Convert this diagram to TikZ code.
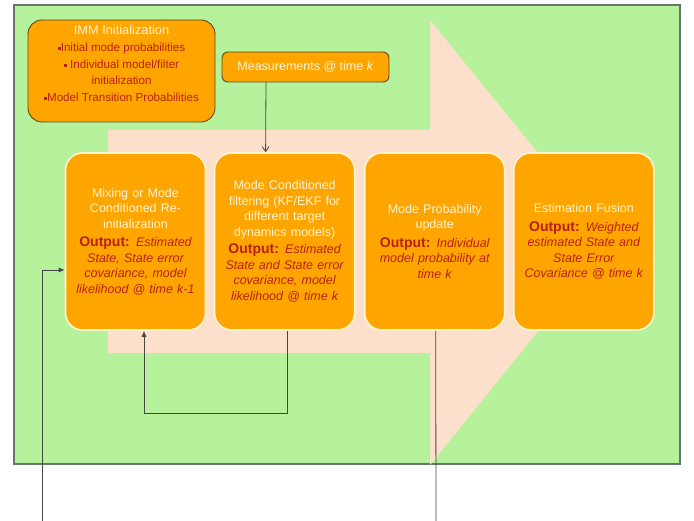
\documentclass[tikz,border=0pt]{standalone}
\usepackage{fontspec}
\setmainfont{Liberation Sans}
\usetikzlibrary{positioning,arrows.meta}

\definecolor{bggreen}{RGB}{182,242,155}
\definecolor{arrowpeach}{RGB}{252,224,204}
\definecolor{boxorange}{RGB}{255,165,0}
\definecolor{boxcream}{RGB}{255,245,212}
\definecolor{outred}{RGB}{185,32,20}
\definecolor{framegray}{RGB}{105,118,105}
\definecolor{boxedge}{RGB}{92,72,22}
\definecolor{linegray}{RGB}{70,70,70}

\newcommand{\outp}[1]{\textcolor{outred}{{\bfseries\fontsize{14}{15.5}\selectfont Output:} \itshape #1}}
\newcommand{\blt}{\textcolor{outred}{\raisebox{1.5pt}{\rule{3pt}{3pt}}}}

\tikzset{
	procbox/.style={draw=boxcream, line width=1.6pt, fill=boxorange, rounded corners=17pt,
		minimum width=140pt, minimum height=177pt, text width=130pt, align=center,
		inner sep=0pt, text=boxcream, font=\fontsize{12.5}{15.5}\selectfont},
	infobox/.style={draw=boxedge, line width=0.9pt, fill=boxorange},
	link/.style={draw=linegray, line width=0.8pt},
}

\begin{document}
\begin{tikzpicture}[x=1pt,y=-1pt]
\useasboundingbox (0,0) rectangle (694,521);
%
	\draw[fill=bggreen, draw=framegray, line width=1.3pt] (14,5) rectangle (680,464);
	\fill[arrowpeach] (108,130) -- (430,130) -- (430,20) -- (610,242) -- (430,465)
		-- (430,353) -- (108,353) -- cycle;
%
	\node[infobox, rounded corners=14pt, minimum width=187pt, minimum height=102pt] (imminit) at (121.5,71) {};
	\node[align=center, font=\fontsize{11.6}{16.7}\selectfont, text=outred] (imminittext) at (121.5,63.5)
		{\textcolor{boxcream}{\fontsize{12.8}{16.7}\selectfont IMM Initialization}\\ \blt Initial mode probabilities\\ \blt\ Individual model/filter\\ initialization\\ \blt Model Transition Probabilities};
	\node[infobox, rounded corners=6pt, minimum width=167pt, minimum height=30pt, text=boxcream,
		font=\fontsize{12.5}{15}\selectfont] (meas) at (305.5,67) {Measurements @ time \textit{k}};
%
	\node[procbox] (mixing) at (135.5,241.5)
		{Mixing or Mode\\ Conditioned Re-\\ initialization\\[3pt]
		\outp{Estimated\\ State, State error\\ covariance, model\\ likelihood @ time k-1}};
	\node[procbox, right=7.5pt of mixing] (filtering)
		{Mode Conditioned\\ filtering (KF/EKF for\\ different target\\ dynamics models)\\[2pt]
		\outp{Estimated\\ State and State error\\ covariance, model\\ likelihood @ time k}};
	\node[procbox, right=8.5pt of filtering] (probupdate)
		{Mode Probability\\ update\\[3pt]
		\outp{Individual\\ model probability at\\ time k}};
	\node[procbox, right=7.5pt of probupdate] (fusion)
		{Estimation Fusion\\[3pt]
		\outp{Weighted\\ estimated State and\\ State Error\\ Covariance @ time k}};
%
	\coordinate (feedin) at (42,521);
	\coordinate (probout) at (436,521);
	\draw[link, -{Straight Barb[length=5pt,width=7pt]}] ([xshift=-39.5pt]meas.south) -- ([xshift=-19pt]filtering.north);
	\draw[link, -{Latex[length=6pt,width=5pt]}] ([xshift=3pt]filtering.south) -- ++(0,83) -| ([xshift=8.5pt]mixing.south);
	\draw[link, -{Latex[length=6pt,width=5pt]}] (feedin) |- ([yshift=-28.5pt]mixing.west);
	\draw[link] ([xshift=1pt]probupdate.south) -- (probout);
%
\end{tikzpicture}
\end{document}
